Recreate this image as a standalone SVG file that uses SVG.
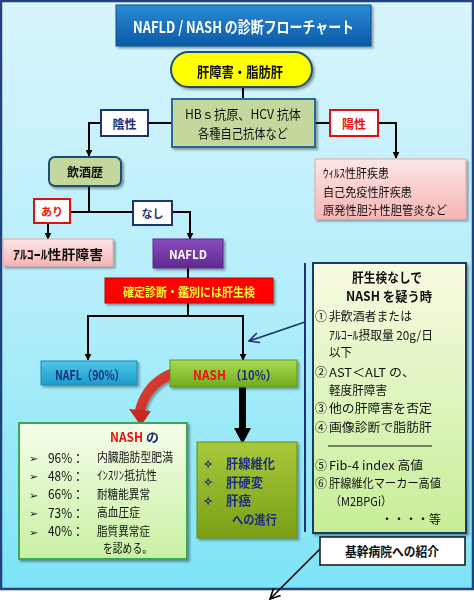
<svg xmlns="http://www.w3.org/2000/svg" width="474" height="602" viewBox="0 0 474 602">
<defs>
<linearGradient id="bg" x1="0" y1="0" x2="0" y2="1"><stop offset="0" stop-color="#d9f5fd"/><stop offset="0.5" stop-color="#b4eefa"/><stop offset="1" stop-color="#7de4f6"/></linearGradient>
<linearGradient id="gTitle" x1="0" y1="0" x2="0" y2="1"><stop offset="0" stop-color="#2a8ad6"/><stop offset="1" stop-color="#0b5aa6"/></linearGradient>
<linearGradient id="gPink" x1="0" y1="0" x2="0" y2="1"><stop offset="0" stop-color="#fde6e6"/><stop offset="1" stop-color="#f7b5b5"/></linearGradient>
<linearGradient id="gPurple" x1="0" y1="0" x2="0" y2="1"><stop offset="0" stop-color="#8a4cc0"/><stop offset="1" stop-color="#60288f"/></linearGradient>
<linearGradient id="gNafl" x1="0" y1="0" x2="0" y2="1"><stop offset="0" stop-color="#4fc6e8"/><stop offset="1" stop-color="#1b9ccb"/></linearGradient>
<linearGradient id="gNash" x1="0" y1="0" x2="0" y2="1"><stop offset="0" stop-color="#acdc50"/><stop offset="1" stop-color="#6eab1f"/></linearGradient>
<linearGradient id="gProg" x1="0" y1="0" x2="0" y2="1"><stop offset="0" stop-color="#a9c93c"/><stop offset="1" stop-color="#7a9f16"/></linearGradient>
<linearGradient id="gInfo" x1="0" y1="0" x2="0" y2="1"><stop offset="0" stop-color="#f6fde9"/><stop offset="1" stop-color="#c8f0a2"/></linearGradient>
<linearGradient id="gSide" x1="0" y1="0" x2="0" y2="1"><stop offset="0" stop-color="#f7fbe2"/><stop offset="1" stop-color="#c6ee98"/></linearGradient>
<linearGradient id="gRedArr" x1="0" y1="0" x2="1" y2="1"><stop offset="0" stop-color="#e8463c"/><stop offset="1" stop-color="#b8241e"/></linearGradient>
<filter id="sh" x="-10%" y="-10%" width="130%" height="140%"><feDropShadow dx="2" dy="2" stdDeviation="1.2" flood-color="#000" flood-opacity="0.35"/></filter>
<marker id="ah" viewBox="0 0 10 10" refX="9" refY="5" markerWidth="7" markerHeight="7" orient="auto" markerUnits="userSpaceOnUse"><path d="M0,0 L10,5 L0,10 z" fill="#000"/></marker>
<marker id="ahOpenNavy" viewBox="0 0 12 12" refX="11" refY="6" markerWidth="12" markerHeight="12" orient="auto" markerUnits="userSpaceOnUse"><path d="M1,1 L11,6 L1,11" fill="none" stroke="#1f3370" stroke-width="1.6"/></marker>
<marker id="ahOpen" viewBox="0 0 12 12" refX="11" refY="6" markerWidth="12" markerHeight="12" orient="auto" markerUnits="userSpaceOnUse"><path d="M1,1 L11,6 L1,11" fill="none" stroke="#000" stroke-width="1.6"/></marker>
</defs>
<style>
text{font-family:"Noto Sans CJK JP","Noto Sans",sans-serif;}
.b{font-weight:bold;}
.c{text-anchor:middle;}
.navy{fill:#1f2d7a;}
.red{fill:#ee1111;}
.ln{fill:none;stroke:#000;stroke-width:2;}
.t12{font-size:12px;fill:#111;}
.t13{font-size:13px;fill:#111;}
.side{font-size:12px;fill:#111;}
</style>

<rect x="1" y="1" width="472" height="588" fill="url(#bg)" stroke="#22417f" stroke-width="2.5"/>

<g id="connectors">
<line class="ln" x1="243" y1="87" x2="243" y2="99"/>
<polyline class="ln" points="172,123 89,123 89,156" marker-end="url(#ah)"/>
<polyline class="ln" points="315,123 396,123 396,158" marker-end="url(#ah)"/>
<line class="ln" x1="89" y1="186" x2="89" y2="212"/>
<polyline class="ln" points="48,212 190,212 190,239" marker-end="url(#ah)"/>
<line class="ln" x1="48" y1="222" x2="48" y2="239" marker-end="url(#ah)"/>
<line class="ln" x1="188" y1="268" x2="188" y2="279"/>
<line class="ln" x1="188" y1="303" x2="188" y2="316"/>
<polyline class="ln" points="88,360 88,316 243,316 243,360" marker-end="url(#ah)"/>
<line class="ln" x1="88" y1="316" x2="88" y2="360" marker-end="url(#ah)"/>
<rect x="239" y="387" width="7" height="42" fill="#000"/>
<polygon points="234,428 251,428 242.5,444" fill="#000"/>
<line x1="305" y1="263" x2="305" y2="532" stroke="#1f3370" stroke-width="2"/>
<line x1="305" y1="322" x2="249" y2="341" stroke="#1f3370" stroke-width="1.6" marker-end="url(#ahOpenNavy)"/>
<line x1="320" y1="549" x2="270" y2="599" stroke="#000" stroke-width="1.6" marker-end="url(#ahOpen)"/>
<path d="M183,366 C158,369 141,386 135,410 L145,411 C150,392 163,380 183,377 Z" fill="url(#gRedArr)" filter="url(#sh)"/>
<polygon points="129,409 151,411 141,426" fill="#c8281f"/>
</g>

<g id="title" filter="url(#sh)">
<rect x="116" y="5" width="255" height="41" fill="url(#gTitle)" stroke="#0d4f8f" stroke-width="1"/>
<text x="243.5" y="33" class="b c" font-size="16" fill="#fff" textLength="221" lengthAdjust="spacingAndGlyphs">NAFLD / NASH の診断フローチャート</text>
</g>

<g id="liver" filter="url(#sh)">
<rect x="171" y="52" width="141" height="35" rx="17.5" fill="#ffff00" stroke="#1f4e79" stroke-width="2"/>
<text x="240" y="77" class="b c" font-size="14" fill="#111" textLength="86" lengthAdjust="spacingAndGlyphs">肝障害・脂肪肝</text>
</g>

<g id="test" filter="url(#sh)">
<rect x="172" y="99" width="143" height="48" fill="#c4d79c" stroke="#2b6a96" stroke-width="2"/>
<text x="243" y="119" class="c t13" textLength="116" lengthAdjust="spacingAndGlyphs">HBｓ抗原、HCV 抗体</text>
<text x="243" y="138" class="c t13" textLength="90" lengthAdjust="spacingAndGlyphs">各種自己抗体など</text>
</g>

<g id="negative">
<rect x="101" y="110" width="47" height="26" fill="#fff" stroke="#1f3370" stroke-width="2"/>
<text x="124.5" y="128.5" class="b c navy" font-size="12">陰性</text>
</g>

<g id="positive">
<rect x="330" y="110" width="48" height="26" fill="#fff" stroke="#e01010" stroke-width="2"/>
<text x="354" y="128.5" class="b c red" font-size="12">陽性</text>
</g>

<g id="other-disease" filter="url(#sh)">
<rect x="315" y="159" width="151" height="60" fill="url(#gPink)" stroke="#e6a6a6" stroke-width="1"/>
<text x="323" y="178" class="t12" textLength="66" lengthAdjust="spacingAndGlyphs">ｳｨﾙｽ性肝疾患</text>
<text x="323" y="197" class="t12" textLength="89" lengthAdjust="spacingAndGlyphs">自己免疫性肝疾患</text>
<text x="323" y="215" class="t12" textLength="124" lengthAdjust="spacingAndGlyphs">原発性胆汁性胆管炎など</text>
</g>

<g id="drinking" filter="url(#sh)">
<rect x="49" y="157" width="72" height="29" rx="6" fill="#c4d79c" stroke="#1f4e79" stroke-width="2"/>
<text x="85" y="176.5" class="b c" font-size="12" fill="#111" textLength="36" lengthAdjust="spacingAndGlyphs">飲酒歴</text>
</g>

<g id="yes">
<rect x="34" y="199" width="36" height="24" fill="#fff" stroke="#e01010" stroke-width="2"/>
<text x="52" y="215.5" class="b c red" font-size="11">あり</text>
</g>

<g id="no">
<rect x="133" y="201" width="39" height="24" fill="#fff" stroke="#1f3370" stroke-width="2"/>
<text x="152.5" y="217.5" class="b c navy" font-size="11">なし</text>
</g>

<g id="alcoholic" filter="url(#sh)">
<rect x="3" y="239" width="110" height="27" fill="url(#gPink)" stroke="#e6a6a6" stroke-width="1"/>
<text x="58" y="258.5" class="b c" font-size="13" fill="#111" textLength="90" lengthAdjust="spacingAndGlyphs">ｱﾙｺｰﾙ性肝障害</text>
</g>

<g id="nafld" filter="url(#sh)">
<rect x="153" y="239" width="70" height="29" fill="url(#gPurple)" stroke="#5a2a86" stroke-width="1"/>
<text x="188" y="258.5" class="b c" font-size="12" fill="#fff" textLength="38" lengthAdjust="spacingAndGlyphs">NAFLD</text>
</g>

<g id="biopsy" filter="url(#sh)">
<rect x="105" y="278" width="168" height="25" fill="#ff0000" stroke="#c00000" stroke-width="1"/>
<text x="189" y="297" class="b c" font-size="12" fill="#ffff33" textLength="132" lengthAdjust="spacingAndGlyphs">確定診断・鑑別には肝生検</text>
</g>

<g id="nafl" filter="url(#sh)">
<rect x="41" y="361" width="96" height="24" fill="url(#gNafl)" stroke="#1a8ab8" stroke-width="1"/>
<text x="90" y="379.5" class="b c navy" font-size="13" textLength="70" lengthAdjust="spacingAndGlyphs">NAFL（90%）</text>
</g>

<g id="nash" filter="url(#sh)">
<rect x="170" y="360" width="127" height="27" fill="url(#gNash)" stroke="#5e9a1a" stroke-width="1"/>
<text x="193" y="379.5" class="b red" font-size="13" textLength="33" lengthAdjust="spacingAndGlyphs">NASH</text>
<text x="230" y="379.5" class="b navy" font-size="13" textLength="47" lengthAdjust="spacingAndGlyphs">（10%）</text>
</g>

<g id="nash-facts" filter="url(#sh)">
<rect x="19" y="423" width="168" height="136" fill="url(#gInfo)" stroke="#3aa857" stroke-width="2"/>
<text x="110" y="442" class="b red" font-size="13" textLength="33" lengthAdjust="spacingAndGlyphs">NASH</text>
<text x="146" y="442" class="b navy" font-size="13">の</text>
<g class="t13">
<text x="29" y="462" font-size="10" textLength="9" lengthAdjust="spacingAndGlyphs">➢</text><text x="48" y="462.5" font-size="13" textLength="36" lengthAdjust="spacingAndGlyphs">96%：</text><text x="97" y="462" font-size="12" textLength="76" lengthAdjust="spacingAndGlyphs">内臓脂肪型肥満</text>
<text x="29" y="480" font-size="10" textLength="9" lengthAdjust="spacingAndGlyphs">➢</text><text x="48" y="480.5" font-size="13" textLength="36" lengthAdjust="spacingAndGlyphs">48%：</text><text x="97" y="480" font-size="12" textLength="60" lengthAdjust="spacingAndGlyphs">ｲﾝｽﾘﾝ抵抗性</text>
<text x="29" y="498.5" font-size="10" textLength="9" lengthAdjust="spacingAndGlyphs">➢</text><text x="48" y="499" font-size="13" textLength="36" lengthAdjust="spacingAndGlyphs">66%：</text><text x="97" y="498.5" font-size="12" textLength="53" lengthAdjust="spacingAndGlyphs">耐糖能異常</text>
<text x="29" y="517" font-size="10" textLength="9" lengthAdjust="spacingAndGlyphs">➢</text><text x="48" y="517.5" font-size="13" textLength="36" lengthAdjust="spacingAndGlyphs">73%：</text><text x="97" y="517" font-size="12" textLength="43" lengthAdjust="spacingAndGlyphs">高血圧症</text>
<text x="29" y="535.5" font-size="10" textLength="9" lengthAdjust="spacingAndGlyphs">➢</text><text x="48" y="536" font-size="13" textLength="36" lengthAdjust="spacingAndGlyphs">40%：</text><text x="97" y="535.5" font-size="12" textLength="53" lengthAdjust="spacingAndGlyphs">脂質異常症</text>
<text x="103" y="553" font-size="12" textLength="49" lengthAdjust="spacingAndGlyphs">を認める。</text>
</g>
</g>

<g id="progression" filter="url(#sh)">
<rect x="197" y="442" width="100" height="96" fill="url(#gProg)" stroke="#6a8c14" stroke-width="1"/>
<g class="b navy" font-size="13">
<text x="203" y="467.5" font-size="11" textLength="10" lengthAdjust="spacingAndGlyphs">✧</text><text x="226" y="468" textLength="49" lengthAdjust="spacingAndGlyphs">肝線維化</text>
<text x="203" y="486" font-size="11" textLength="10" lengthAdjust="spacingAndGlyphs">✧</text><text x="226" y="486.5" textLength="37" lengthAdjust="spacingAndGlyphs">肝硬変</text>
<text x="203" y="504.5" font-size="11" textLength="10" lengthAdjust="spacingAndGlyphs">✧</text><text x="226" y="505" textLength="25" lengthAdjust="spacingAndGlyphs">肝癌</text>
<text x="232" y="523.5" textLength="45" lengthAdjust="spacingAndGlyphs">への進行</text>
</g>
</g>

<g id="suspect-nash" filter="url(#sh)">
<rect x="313" y="263" width="153" height="270" fill="url(#gSide)" stroke="#1f3864" stroke-width="2"/>
<text x="387" y="282" class="b c" font-size="13" fill="#111" textLength="70" lengthAdjust="spacingAndGlyphs">肝生検なしで</text>
<text x="389" y="301" class="b c" font-size="13" fill="#111" textLength="86" lengthAdjust="spacingAndGlyphs">NASH を疑う時</text>
<g class="side">
<text x="315" y="321">①</text><text x="329" y="321" textLength="83" lengthAdjust="spacingAndGlyphs">非飲酒者または</text>
<text x="329" y="339.5" textLength="104" lengthAdjust="spacingAndGlyphs">ｱﾙｺｰﾙ摂取量 20g/日</text>
<text x="329" y="357" textLength="23" lengthAdjust="spacingAndGlyphs">以下</text>
<text x="315" y="377">②</text><text x="329" y="377" textLength="86" lengthAdjust="spacingAndGlyphs">AST＜ALT の、</text>
<text x="329" y="395" textLength="58" lengthAdjust="spacingAndGlyphs">軽度肝障害</text>
<text x="315" y="413">③</text><text x="329" y="413" textLength="103" lengthAdjust="spacingAndGlyphs">他の肝障害を否定</text>
<text x="315" y="432">④</text><text x="329" y="432" textLength="103" lengthAdjust="spacingAndGlyphs">画像診断で脂肪肝</text>
<text x="315" y="470">⑤</text><text x="329" y="470" textLength="94" lengthAdjust="spacingAndGlyphs">Fib-4 index 高値</text>
<text x="315" y="488">⑥</text><text x="329" y="488" textLength="112" lengthAdjust="spacingAndGlyphs">肝線維化マーカー高値</text>
<text x="330" y="506" textLength="62" lengthAdjust="spacingAndGlyphs">（M2BPGi）</text>
<text x="441" y="524" text-anchor="end">・・・・等</text>
</g>
<line x1="328" y1="446" x2="432" y2="446" stroke="#111" stroke-width="1.2"/>
</g>

<g id="referral">
<rect x="320" y="537" width="145" height="28" fill="#fff" stroke="#111" stroke-width="1.5"/>
<text x="392" y="556" class="b c" font-size="13" fill="#111" textLength="94" lengthAdjust="spacingAndGlyphs">基幹病院への紹介</text>
</g>
</svg>
